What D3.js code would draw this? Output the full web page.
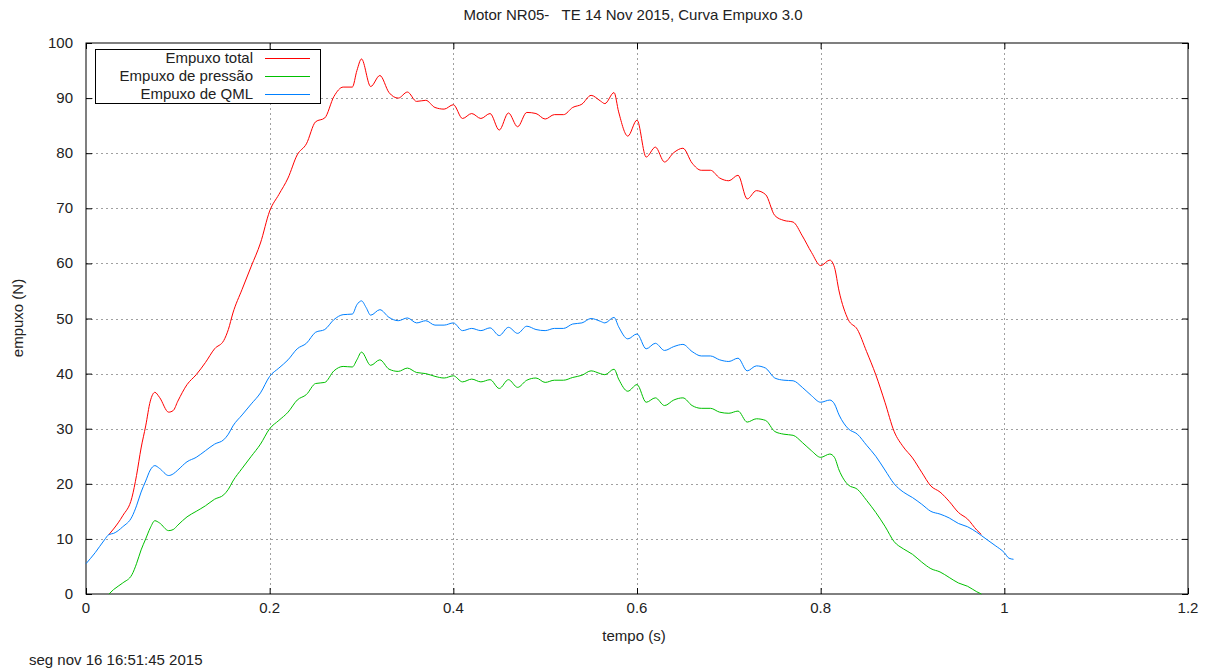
<!DOCTYPE html>
<html>
<head>
<meta charset="utf-8">
<script src="https://cdn.jsdelivr.net/npm/d3@7"></script>
<style>
  body { margin: 0; background: #fff; }
  text { font-family: "Liberation Sans", Arial, sans-serif; font-size: 15px; fill: #222; }
</style>
</head>
<body>
<div class="layout"></div>
<script>
// time (s) and thrust (N)
var tempoTotal = [0.025,0.03,0.04,0.05,0.055,0.06,0.065,0.07,0.075,0.08,0.09,0.095,0.1,0.11,0.12,0.13,0.14,0.15,0.155,0.16,0.17,0.18,0.19,0.2,0.21,0.22,0.23,0.24,0.25,0.26,0.27,0.28,0.29,0.295,0.3,0.31,0.32,0.33,0.34,0.35,0.36,0.37,0.38,0.39,0.4,0.41,0.42,0.43,0.44,0.45,0.46,0.47,0.48,0.49,0.5,0.51,0.52,0.53,0.54,0.55,0.56,0.565,0.575,0.58,0.59,0.6,0.61,0.62,0.63,0.64,0.65,0.66,0.67,0.68,0.69,0.7,0.71,0.72,0.73,0.74,0.75,0.76,0.77,0.78,0.79,0.8,0.81,0.815,0.82,0.83,0.84,0.85,0.86,0.87,0.88,0.89,0.9,0.91,0.92,0.93,0.94,0.95,0.96,0.97,0.975];
var empuxoTotal = [10.8,11.8,14.2,17.5,21.5,26.5,30.5,35,36.6,35.7,33,33.3,35,38,39.8,42,44.5,46,48,51,55.3,59.5,63.7,69.5,72.5,75.5,79.7,81.7,85.7,86.4,90.3,92,92,95,97.1,92.1,94.1,91,90,91.1,89.4,89.6,88.3,88,88.8,86.3,87.2,86.3,87.2,84.2,87.3,84.8,87.4,87.2,86.2,87,87,88.3,88.9,90.5,89.5,89,91,87.5,83.1,86,79.3,81.1,78.4,80.1,80.9,78.2,76.9,76.9,75.5,75,76,71.7,73.2,72.5,68.7,67.8,67.5,65,62,59.6,60.6,59.3,55,49.8,48,44,39.8,34.8,29.5,26.7,24.7,22.1,19.6,18.5,16.8,14.8,13.6,11.6,10.8];

var tempoPressao = [0.025,0.03,0.04,0.05,0.055,0.06,0.065,0.07,0.075,0.08,0.09,0.095,0.1,0.11,0.12,0.13,0.14,0.15,0.155,0.16,0.17,0.18,0.19,0.2,0.21,0.22,0.23,0.24,0.25,0.26,0.27,0.28,0.29,0.295,0.3,0.31,0.32,0.33,0.34,0.35,0.36,0.37,0.38,0.39,0.4,0.41,0.42,0.43,0.44,0.45,0.46,0.47,0.48,0.49,0.5,0.51,0.52,0.53,0.54,0.55,0.56,0.565,0.575,0.58,0.59,0.6,0.61,0.62,0.63,0.64,0.65,0.66,0.67,0.68,0.69,0.7,0.71,0.72,0.73,0.74,0.75,0.76,0.77,0.78,0.79,0.8,0.81,0.815,0.82,0.83,0.84,0.85,0.86,0.87,0.88,0.89,0.9,0.91,0.92,0.93,0.94,0.95,0.96,0.97,0.975];
var empuxoPressao = [0,0.8,2,3.5,5.5,8,10,12,13.3,12.9,11.5,11.7,12.5,14,15,16,17.2,18,19,20.5,22.8,25,27.2,30,31.5,33,35.2,36.2,38.2,38.4,40.5,41.3,41.2,42.5,43.9,41.5,42.5,40.8,40.4,41,40.2,40,39.5,39.2,39.6,38.5,39,38.5,38.9,37.3,38.9,37.5,38.8,39.2,38.4,38.8,38.8,39.3,39.7,40.5,40,39.8,40.8,39,36.8,38,34.8,35.6,34.2,35.2,35.6,34.2,33.7,33.7,33,32.8,33.2,31.2,31.8,31.5,29.5,29,28.8,27.5,26,24.8,25.4,24.8,22.5,19.8,19,17,14.8,12.3,9.5,8.2,7.2,5.8,4.6,4,3,2,1.4,0.4,0];

var tempoQml = [0,0.01,0.02,0.025,0.03,0.04,0.05,0.055,0.06,0.065,0.07,0.075,0.08,0.09,0.095,0.1,0.11,0.12,0.13,0.14,0.15,0.155,0.16,0.17,0.18,0.19,0.2,0.21,0.22,0.23,0.24,0.25,0.26,0.27,0.28,0.29,0.295,0.3,0.305,0.31,0.32,0.33,0.34,0.35,0.36,0.37,0.38,0.39,0.4,0.41,0.42,0.43,0.44,0.45,0.46,0.47,0.48,0.49,0.5,0.51,0.52,0.53,0.54,0.55,0.56,0.565,0.575,0.58,0.59,0.6,0.61,0.62,0.63,0.64,0.65,0.66,0.67,0.68,0.69,0.7,0.71,0.72,0.73,0.74,0.75,0.76,0.77,0.78,0.79,0.8,0.81,0.815,0.82,0.83,0.84,0.85,0.86,0.87,0.88,0.89,0.9,0.91,0.92,0.93,0.94,0.95,0.96,0.97,0.98,0.99,1,1.005,1.01];
var empuxoQml = [5.5,7.5,9.8,10.8,11,12.2,14,16,18.5,20.5,22.5,23.3,22.8,21.5,21.8,22.5,24,24.8,26,27.2,28,29,30.5,32.5,34.5,36.5,39.5,41,42.5,44.5,45.5,47.5,48,49.8,50.7,50.8,52.5,53.2,52,50.6,51.6,50.2,49.6,50.1,49.2,49.6,48.8,48.8,49.2,47.8,48.2,47.8,48.3,46.9,48.4,47.3,48.6,48,47.8,48.2,48.2,49,49.2,50,49.5,49.2,50.2,48.5,46.3,47.2,44.5,45.5,44.2,44.9,45.3,44,43.2,43.2,42.5,42.2,42.8,40.5,41.4,41,39.2,38.8,38.7,37.5,36,34.8,35.2,34.5,32.5,30,29,27,25,22.5,20,18.5,17.5,16.3,15,14.5,13.8,12.8,12.2,11.2,10,8.8,7.5,6.5,6.3];

var xTicks = [0, 0.2, 0.4, 0.6, 0.8, 1, 1.2];
var yTicks = [0, 10, 20, 30, 40, 50, 60, 70, 80, 90, 100];

var series = [
  {name: "Empuxo total", color: "#ff0000", t: tempoTotal, v: empuxoTotal},
  {name: "Empuxo de pressão", color: "#00c000", t: tempoPressao, v: empuxoPressao},
  {name: "Empuxo de QML", color: "#0080ff", t: tempoQml, v: empuxoQml}
];

const width = 1211;
const height = 671;
const margin = {left: 86, right: 23, top: 43, bottom: 77};

var svg = d3.select("div.layout")
  .append("svg")
  .attr("width", width)
  .attr("height", height);

var x = d3.scaleLinear().domain([0, 1.2]).range([margin.left, width - margin.right]);
var y = d3.scaleLinear().domain([0, 100]).range([height - margin.bottom, margin.top]);

// grid
svg.append("g")
   .selectAll("line.gx")
   .data(xTicks.slice(1, -1))
   .enter()
   .append("line")
   .attr("x1", function(d) { return Math.round(x(d)) + 0.5 })
   .attr("x2", function(d) { return Math.round(x(d)) + 0.5 })
   .attr("y1", y(100))
   .attr("y2", y(0))
   .attr("stroke", "#a0a0a0")
   .attr("stroke-dasharray", "2,3");

svg.append("g")
   .selectAll("line.gy")
   .data(yTicks.slice(1, -1))
   .enter()
   .append("line")
   .attr("y1", function(d) { return Math.round(y(d)) + 0.5 })
   .attr("y2", function(d) { return Math.round(y(d)) + 0.5 })
   .attr("x1", x(0))
   .attr("x2", x(1.2))
   .attr("stroke", "#a0a0a0")
   .attr("stroke-dasharray", "2,3");

// axes, ticks pointing inward and mirrored
var fmt = function(d) { return d3.format("")(d) };
svg.append("g")
   .attr("transform", "translate(0," + y(0) + ")")
   .call(d3.axisTop(x).tickValues(xTicks).tickSize(6).tickFormat(""));
svg.append("g")
   .attr("transform", "translate(0," + y(100) + ")")
   .call(d3.axisBottom(x).tickValues(xTicks).tickSize(6).tickFormat(""));
svg.append("g")
   .attr("transform", "translate(" + x(0) + ",0)")
   .call(d3.axisRight(y).tickValues(yTicks).tickSize(6).tickFormat(""));
svg.append("g")
   .attr("transform", "translate(" + x(1.2) + ",0)")
   .call(d3.axisLeft(y).tickValues(yTicks).tickSize(6).tickFormat(""));
svg.selectAll(".domain").remove();
svg.selectAll(".tick line").attr("stroke", "#000");

svg.append("rect")
   .attr("x", x(0))
   .attr("y", y(100))
   .attr("width", x(1.2) - x(0))
   .attr("height", y(0) - y(100))
   .attr("fill", "none")
   .attr("stroke", "#000");

// tick labels
svg.selectAll("text.xl")
   .data(xTicks)
   .enter()
   .append("text")
   .attr("x", function(d) { return x(d) })
   .attr("y", y(0) + 19)
   .attr("text-anchor", "middle")
   .text(fmt);

svg.selectAll("text.yl")
   .data(yTicks)
   .enter()
   .append("text")
   .attr("x", x(0) - 13)
   .attr("y", function(d) { return y(d) + 5 })
   .attr("text-anchor", "end")
   .text(fmt);

// curves
var line = d3.line()
  .x(function(d) { return x(d[0]) })
  .y(function(d) { return y(d[1]) })
  .curve(d3.curveMonotoneX);

series.forEach(function(s) {
  var pts = s.t.map(function(t, i) { return [t, s.v[i]] });
  svg.append("path")
     .datum(pts)
     .attr("d", line)
     .attr("fill", "none")
     .attr("stroke", s.color)
     .attr("stroke-width", 1);
});

// legend
var legend = svg.append("g");
legend.append("rect")
      .attr("x", 95.5)
      .attr("y", 49.5)
      .attr("width", 225)
      .attr("height", 54)
      .attr("fill", "#fff")
      .attr("stroke", "#000");

series.forEach(function(s, i) {
  var ly = 58 + i * 18;
  legend.append("text")
        .attr("x", 253)
        .attr("y", ly + 5)
        .attr("text-anchor", "end")
        .text(s.name);
  legend.append("line")
        .attr("x1", 265)
        .attr("x2", 310)
        .attr("y1", ly + 0.5)
        .attr("y2", ly + 0.5)
        .attr("stroke", s.color);
});

// titles
svg.append("text")
   .attr("x", 633)
   .attr("y", 20)
   .attr("text-anchor", "middle")
   .style("white-space", "pre")
   .text("Motor NR05-   TE 14 Nov 2015, Curva Empuxo 3.0");

svg.append("text")
   .attr("x", 634)
   .attr("y", 641)
   .attr("text-anchor", "middle")
   .text("tempo (s)");

svg.append("text")
   .attr("transform", "translate(23,318) rotate(-90)")
   .attr("text-anchor", "middle")
   .text("empuxo (N)");

svg.append("text")
   .attr("x", 29)
   .attr("y", 665)
   .text("seg nov 16 16:51:45 2015");
</script>
</body>
</html>
